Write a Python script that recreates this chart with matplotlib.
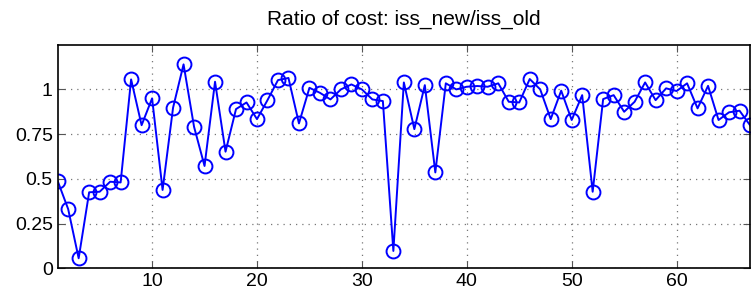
import matplotlib
matplotlib.use("Agg")
import matplotlib.pyplot as plt

plt.rcParams['font.family'] = ['Liberation Sans', 'DejaVu Sans']

idx = list(range(1, 68))
ratio = [0.488, 0.331, 0.056, 0.425, 0.428, 0.484, 0.480, 1.056, 0.800, 0.950,
         0.438, 0.898, 1.140, 0.791, 0.572, 1.043, 0.652, 0.890, 0.927, 0.834,
         0.940, 1.052, 1.064, 0.810, 1.009, 0.981, 0.944, 1.000, 1.028, 1.000,
         0.944, 0.935, 0.097, 1.039, 0.778, 1.024, 0.536, 1.034, 1.000, 1.015,
         1.019, 1.015, 1.034, 0.931, 0.927, 1.058, 1.000, 0.834, 0.993, 0.829,
         0.968, 0.428, 0.946, 0.968, 0.875, 0.931, 1.039, 0.940, 1.006, 0.991,
         1.034, 0.894, 1.020, 0.829, 0.872, 0.881, 0.800]
yticks = [0, 0.25, 0.5, 0.75, 1]
ytick_labels = ["0", "0.25", "0.5", "0.75", "1"]

fig = plt.figure(figsize=(7.55, 3.03), dpi=100)
ax = fig.add_axes([0.0764, 0.1145, 0.917, 0.738])
ax.plot(idx, ratio, color='blue', linewidth=1.4, marker='o', markersize=10,
        markerfacecolor='none', markeredgecolor='blue', markeredgewidth=1.4)

ax.set_xlim(1, 67)
ax.set_ylim(0, 1.25)
ax.set_xticks([10, 20, 30, 40, 50, 60])
ax.set_yticks(yticks)
ax.set_yticklabels(ytick_labels)
ax.tick_params(direction='in', labelsize=14, length=5, top=True, right=True,
               color='#555555')
ax.grid(True, linestyle=(0, (1, 4)), color='#777777', linewidth=0.9)
for s in ax.spines.values():
    s.set_linewidth(1.2)
ax.set_title("Ratio of cost: iss_new/iss_old", fontsize=15, pad=14)

fig.savefig("out.png", dpi=100)
